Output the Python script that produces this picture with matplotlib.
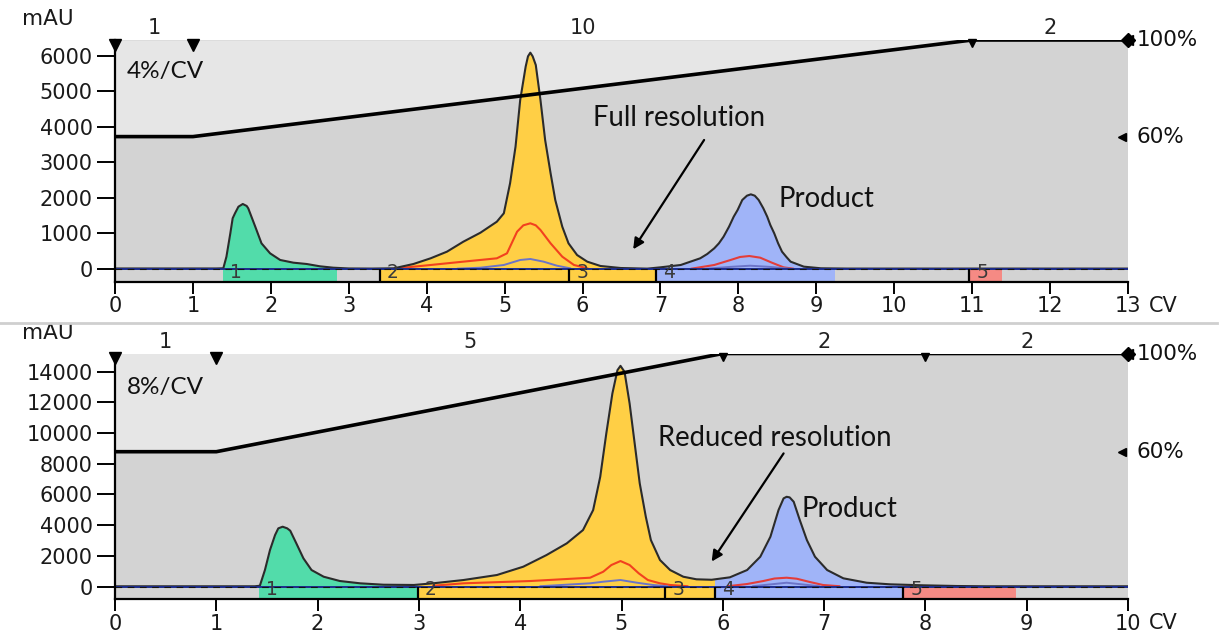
import numpy as np
import matplotlib
matplotlib.use("Agg")
import matplotlib.pyplot as plt
from matplotlib.patches import Rectangle
from matplotlib.lines import Line2D
from matplotlib.transforms import blended_transform_factory

nan = np.nan

# ---------------- Top run: 4%/CV ----------------
top_uv_cv = [0, 1.30, 1.39, 1.43, 1.48, 1.51, 1.54, 1.584, 1.64, 1.69, 1.71, 1.80, 1.88, 1.99,
             2.12, 2.29, 2.46, 2.63, 2.80, 3.00, 3.30, 3.58, 3.83, 4.05, 4.26, 4.47, 4.69,
             4.90, 4.99, 5.07, 5.14, 5.20, 5.27, 5.30, 5.33, 5.36, 5.40, 5.46, 5.52, 5.59,
             5.65, 5.74, 5.82, 5.93, 6.06, 6.23, 6.49, 6.83, 7.00, 7.26, 7.51, 7.60, 7.69,
             7.75, 7.81, 7.88, 7.94, 7.99, 8.05, 8.11, 8.16, 8.21, 8.26, 8.32, 8.37, 8.41,
             8.46, 8.51, 8.56, 8.62, 8.67, 8.84, 9.06, 9.40, 13.0]
top_uv_mau = [15, 15, 20, 346, 1005, 1428, 1569, 1755, 1831, 1775, 1709, 1192, 723, 442,
              254, 178, 141, 76, 37, 15, 12, 20, 141, 301, 488, 769, 1023,
              1332, 1569, 2414, 3445, 4761, 5699, 5990, 6093, 5990, 5746, 4761, 3634, 2696,
              1944, 1192, 723, 394, 207, 85, 28, 10, 47, 113, 301, 422, 582,
              723, 911, 1192, 1474, 1662, 1944, 2065, 2103, 2065, 1944, 1710, 1474, 1239,
              1005, 723, 488, 329, 207, 66, 20, 12, 12]
top_red_cv = [3.58, 4.05, 4.47, 4.90, 5.03, 5.16, 5.24, 5.33, 5.40, 5.46, 5.59, 5.74, 5.89, 6.06,
              nan, 7.40, 7.69, 7.90, 8.02, 8.14, 8.28, 8.43, 8.58, 8.70]
top_red_mau = [10, 113, 207, 301, 441, 1051, 1230, 1287, 1230, 1099, 723, 347, 113, 20,
               nan, 10, 113, 254, 338, 366, 319, 178, 47, 10]
top_pur_cv = [4.40, 4.69, 4.99, 5.20, 5.33, 5.50, 5.67, 5.84, nan, 7.60, 7.90, 8.15, 8.40, 8.65]
top_pur_mau = [10, 37, 113, 254, 282, 207, 94, 20, nan, 10, 60, 93, 60, 10]
top_frac_start = [1.39, 3.40, 5.83, 6.94, 10.96]
top_frac_end = [2.83, 5.83, 6.94, 9.23, 11.37]
top_frac_labels = ["1", "2", "3", "4", "5"]
top_grad_cv = [0, 1, 11, 13]
top_grad_pct = [60, 60, 100, 100]
top_block_cv = [0.5, 6.0, 12.0]
top_block_labels = ["1", "10", "2"]
top_block_marks = [0, 1, 11, 13]
top_yticks = [0, 1000, 2000, 3000, 4000, 5000, 6000]
top_xticks = list(range(0, 14))

# ---------------- Bottom run: 8%/CV ----------------
bot_uv_cv = [0, 1.38, 1.43, 1.48, 1.53, 1.58, 1.612, 1.655, 1.70, 1.73, 1.79, 1.86, 1.94,
             2.06, 2.22, 2.42, 2.65, 2.95, 3.14, 3.44, 3.77, 4.03, 4.26, 4.46, 4.62, 4.72,
             4.79, 4.85, 4.91, 4.96, 4.99, 5.03, 5.08, 5.13, 5.18, 5.24, 5.29, 5.38, 5.48,
             5.61, 5.74, 5.89, 6.07, 6.24, 6.37, 6.42, 6.47, 6.52, 6.55, 6.60, 6.63, 6.66,
             6.70, 6.76, 6.83, 6.91, 7.03, 7.19, 7.42, 7.65, 7.98, 8.31, 8.60, 10.0]
bot_uv_mau = [15, 15, 50, 1074, 2377, 3353, 3790, 3897, 3790, 3636, 2813, 1836, 1074,
              638, 358, 208, 117, 100, 208, 423, 749, 1290, 2051, 2813, 3679, 4981,
              7150, 9976, 12580, 14100, 14380, 13990, 11930, 9325, 6720, 4545, 3028, 1726, 1074,
              638, 469, 440, 599, 1074, 1940, 2592, 3243, 4330, 4981, 5743, 5847, 5808,
              5522, 4330, 3028, 1940, 1074, 534, 247, 143, 78, 33, 15, 15]
bot_red_cv = [3.14, 3.44, 4.10, 4.69, 4.82, 4.90, 4.99, 5.08, 5.17, 5.26, 5.38, 5.48, 5.65,
              nan, 6.05, 6.24, 6.40, 6.51, 6.63, 6.73, 6.86, 6.99, 7.15]
bot_red_mau = [50, 208, 358, 573, 964, 1400, 1660, 1400, 860, 423, 208, 100, 20,
               nan, 20, 163, 358, 521, 573, 508, 293, 98, 20]
bot_pur_cv = [4.20, 4.69, 4.82, 4.99, 5.15, 5.31, 5.45, nan, 6.30, 6.63, 6.95]
bot_pur_mau = [20, 208, 313, 423, 250, 100, 20, nan, 20, 247, 20]
bot_frac_start = [1.42, 2.99, 5.43, 5.92, 7.78]
bot_frac_end = [2.99, 5.43, 5.92, 7.78, 8.88]
bot_frac_labels = ["1", "2", "3", "4", "5"]
bot_grad_cv = [0, 1, 6, 10]
bot_grad_pct = [60, 60, 100, 100]
bot_block_cv = [0.5, 3.5, 7.0, 9.0]
bot_block_labels = ["1", "5", "2", "2"]
bot_block_marks = [0, 1, 6, 8, 10]
bot_yticks = [0, 2000, 4000, 6000, 8000, 10000, 12000, 14000]
bot_xticks = list(range(0, 11))

# ---------------- styles ----------------
GREEN, YELLOW, BLUE, RED = "#52dcaa", "#ffcf45", "#a0b4f8", "#f58a84"
top_frac_colors = [GREEN, YELLOW, YELLOW, BLUE, RED]
bot_frac_colors = [GREEN, YELLOW, YELLOW, BLUE, RED]
BG_DARK, BG_LIGHT = "#d3d3d3", "#e6e6e6"
TICK_FONT = "DejaVu Sans"
NOTE_FONT = "Lato"

W, H = 1222, 633
fig = plt.figure(figsize=(W / 100, H / 100), dpi=100)
fig.patch.set_facecolor("white")


def panel(rect_px, ylim, xmax, uv_cv, uv_mau, red_cv, red_mau, pur_cv, pur_mau,
          fs, fe, flab, fcol, g_cv, g_pct, blk_cv, blk_lab, blk_marks, yticks, xticks):
    l, t, r, b = rect_px
    ax = fig.add_axes([l / W, (H - b) / H, (r - l) / W, (b - t) / H])
    axh = b - t
    axw = r - l
    ylo, yhi = ylim
    ax.set_xlim(0, xmax)
    ax.set_ylim(ylo, yhi)
    ax.set_facecolor(BG_DARK)
    g_mau = [ylo + p / 100 * (yhi - ylo) for p in g_pct]
    ax.fill_between(g_cv, g_mau, yhi, color=BG_LIGHT, lw=0, zorder=0.5)
    for s, e, c in zip(fs, fe, fcol):
        f = ax.fill_between(uv_cv, ylo, uv_mau, color=c, lw=0, zorder=1)
        clip = Rectangle((s, ylo), e - s, yhi - ylo, transform=ax.transData)
        f.set_clip_path(clip)
    ax.plot(red_cv, red_mau, color="#f02818", lw=1.5, alpha=0.85, zorder=2,
            solid_joinstyle="round")
    ax.plot(pur_cv, pur_mau, color="#6c74c8", lw=1.4, zorder=2, solid_joinstyle="round")
    ax.plot(uv_cv, uv_mau, color="#2b2b2b", lw=1.5, zorder=3, solid_joinstyle="round")
    ax.axhline(0, color="#1c2c8c", lw=1.4, zorder=3.2)
    ax.axhline(0, color="#111111", lw=0.8, ls=(0, (6, 5)), zorder=3.3)
    ax.vlines(fs[1:], ylo, 0, color="black", lw=1.6, zorder=3.4)
    for s, lab in zip(fs, flab):
        ax.annotate(lab, xy=(s, 0), xytext=(13, -3), textcoords="offset pixels",
                    ha="center", va="center", fontsize=13.5, color="#3a3a3a",
                    family=TICK_FONT, zorder=5)
    ax.plot(g_cv, g_mau, color="black", lw=2.6, zorder=4, solid_capstyle="butt")

    # method block markers and labels
    btr = blended_transform_factory(ax.transData, ax.transAxes)
    for i, m in enumerate(blk_marks):
        if i == len(blk_marks) - 1:
            ax.plot([m], [1.0], marker="D", ms=7, color="black", transform=btr,
                    clip_on=False, zorder=6)
            ax.plot([m], [1.0], marker="<", ms=7, color="black", transform=btr,
                    clip_on=False, zorder=6)
        else:
            ms = 9 if i < 2 else 6
            ax.plot([m], [1 - (ms * 0.5) / axh], marker="v", ms=ms, color="black",
                    transform=btr, clip_on=False, zorder=6)
    for x, lab in zip(blk_cv, blk_lab):
        ax.annotate(lab, xy=(x, 1), xycoords=btr, xytext=(0, 12),
                    textcoords="offset pixels", ha="center", va="center",
                    fontsize=15, color="#222222", family=TICK_FONT)

    # right side percent labels
    ax.annotate("100%", xy=(1, 1), xycoords="axes fraction", xytext=(9, 0),
                textcoords="offset pixels", ha="left", va="center",
                fontsize=15.5, color="#111111", family=TICK_FONT)
    ax.plot([1 - 6 / axw], [0.6], marker="<", ms=6, color="black",
            transform=ax.transAxes, clip_on=False, zorder=6)
    ax.annotate("60%", xy=(1, 0.6), xycoords="axes fraction", xytext=(9, 0),
                textcoords="offset pixels", ha="left", va="center",
                fontsize=15.5, color="#111111", family=TICK_FONT)

    # axes styling
    for side in ("top", "right"):
        ax.spines[side].set_visible(False)
    for side in ("left", "bottom"):
        ax.spines[side].set_linewidth(1.6)
        ax.spines[side].set_color("black")
        ax.spines[side].set_zorder(6)
    ax.set_yticks(yticks)
    ax.set_xticks(xticks)
    ax.tick_params(axis="y", length=13, width=1.4, pad=3, labelsize=15,
                   labelcolor="#1a1a1a")
    ax.tick_params(axis="x", length=8.5, width=1.4, pad=2, labelsize=15,
                   labelcolor="#1a1a1a")
    for lab in ax.get_xticklabels() + ax.get_yticklabels():
        lab.set_family(TICK_FONT)
    ax.annotate("CV", xy=(1, 0), xycoords="axes fraction", xytext=(21, -14),
                textcoords="offset pixels", ha="left", va="top",
                fontsize=15, color="#1a1a1a", family=TICK_FONT)
    return ax


ax1 = panel((115, 40, 1128, 281.5), (-352, 6450), 13, top_uv_cv, top_uv_mau,
            top_red_cv, top_red_mau, top_pur_cv, top_pur_mau,
            top_frac_start, top_frac_end, top_frac_labels, top_frac_colors,
            top_grad_cv, top_grad_pct, top_block_cv, top_block_labels,
            top_block_marks, top_yticks, top_xticks)
ax2 = panel((115, 353.5, 1128, 599), (-814, 15185), 10, bot_uv_cv, bot_uv_mau,
            bot_red_cv, bot_red_mau, bot_pur_cv, bot_pur_mau,
            bot_frac_start, bot_frac_end, bot_frac_labels, bot_frac_colors,
            bot_grad_cv, bot_grad_pct, bot_block_cv, bot_block_labels,
            bot_block_marks, bot_yticks, bot_xticks)

# annotations
NOTE_SIZE = 19.8
ax1.text(0.154, 5380, "4%/CV", family=NOTE_FONT, fontsize=17.5, ha="left",
         va="baseline", color="#111111", zorder=7)
ax1.text(6.14, 4028, "Full resolution", family=NOTE_FONT, fontsize=NOTE_SIZE, ha="left",
         va="baseline", color="#111111", zorder=7)
ax1.text(8.52, 1746, "Product", family=NOTE_FONT, fontsize=NOTE_SIZE, ha="left",
         va="baseline", color="#111111", zorder=7)
ax1.annotate("", xy=(6.65, 555), xytext=(7.56, 3634),
             arrowprops=dict(arrowstyle="-|>", color="black", lw=1.6,
                             mutation_scale=16, shrinkA=0, shrinkB=0), zorder=7)

ax2.text(0.118, 12566, "8%/CV", family=NOTE_FONT, fontsize=17.5, ha="left",
         va="baseline", color="#111111", zorder=7)
ax2.text(5.36, 9149, "Reduced resolution", family=NOTE_FONT, fontsize=NOTE_SIZE, ha="left",
         va="baseline", color="#111111", zorder=7)
ax2.text(6.78, 4545, "Product", family=NOTE_FONT, fontsize=NOTE_SIZE, ha="left",
         va="baseline", color="#111111", zorder=7)
ax2.annotate("", xy=(5.89, 1627), xytext=(6.60, 8674),
             arrowprops=dict(arrowstyle="-|>", color="black", lw=1.6,
                             mutation_scale=16, shrinkA=0, shrinkB=0), zorder=7)

# y-axis unit labels
fig.text(22 / W, 1 - 19 / H, "mAU", ha="left", va="center", fontsize=15.5,
         color="#1a1a1a", family=TICK_FONT)
fig.text(22 / W, 1 - 333 / H, "mAU", ha="left", va="center", fontsize=15.5,
         color="#1a1a1a", family=TICK_FONT)

# separator between the two screenshots
fig.add_artist(Line2D([0, 1217 / W], [1 - 322.5 / H, 1 - 322.5 / H],
                      color="#cfcfcf", lw=2.0, zorder=10))

fig.savefig("out.png", dpi=100, facecolor="white")
